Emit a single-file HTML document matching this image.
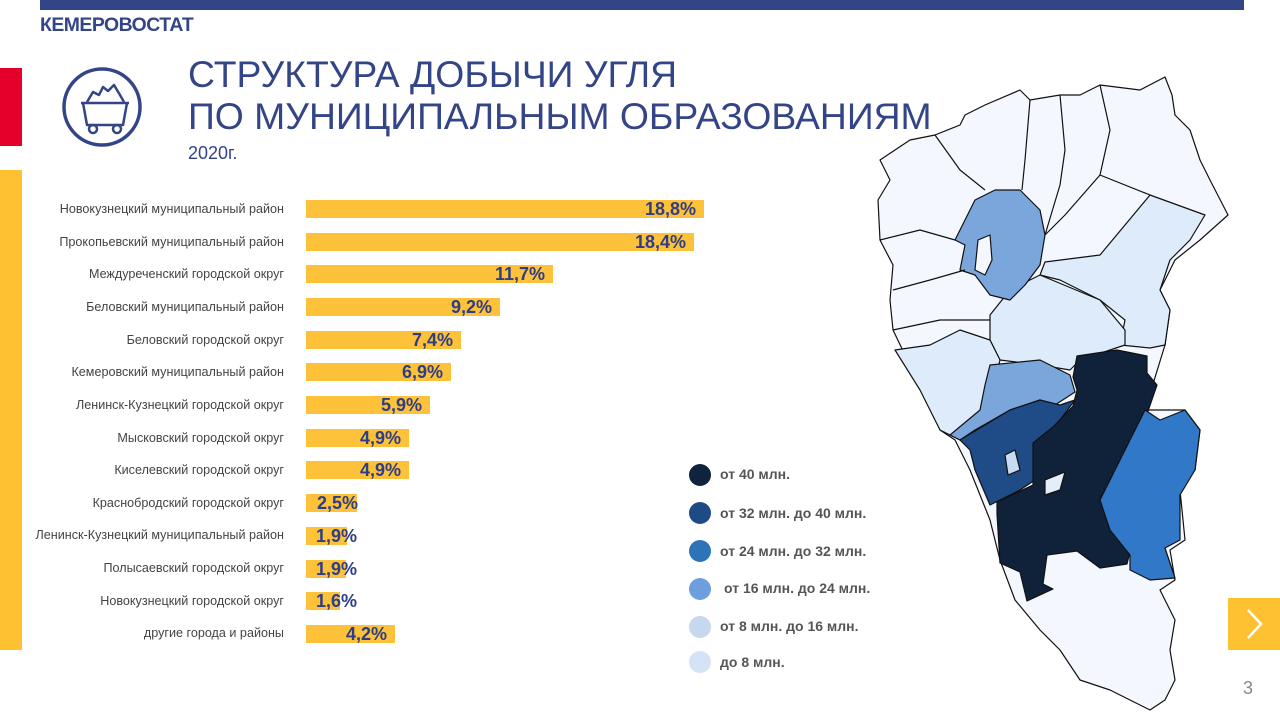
<!DOCTYPE html>
<html><head><meta charset="utf-8"><style>
body{margin:0;width:1280px;height:720px;overflow:hidden;background:#fff;font-family:"Liberation Sans",sans-serif;position:relative}
.a{position:absolute}
.lbl{position:absolute;right:996px;font-size:12.6px;color:#444;white-space:nowrap}
.bar{position:absolute;left:306px;height:18px;background:#fdc13a}
.val{position:absolute;font-size:18px;font-weight:bold;color:#2e3e86;white-space:nowrap;text-align:right}
.lg{position:absolute;left:720px;font-size:14px;font-weight:bold;color:#555}
.dot{position:absolute;left:689px;width:22px;height:22px;border-radius:50%}
</style></head><body>
<div class="a" style="left:40px;top:0;width:1204px;height:10px;background:#344587"></div>
<div class="a" style="left:40px;top:14px;font-size:19.4px;font-weight:bold;color:#344587;letter-spacing:-0.5px">КЕМЕРОВОСТАТ</div>
<div class="a" style="left:0;top:68px;width:22px;height:78px;background:#e4002b"></div>
<div class="a" style="left:0;top:170px;width:22px;height:480px;background:#fdc131"></div>
<svg class="a" style="left:60px;top:66px" width="84" height="84" viewBox="0 0 84 84">
<circle cx="42" cy="41" r="38" fill="none" stroke="#344587" stroke-width="3.5"/>
<g fill="none" stroke="#344587" stroke-width="2.5" stroke-linejoin="round">
<path d="M21 37h48"/><path d="M23 37l4 22h36l4-22"/>
<path d="M27 36l6-10 6 3 4-8 5 4 6-6 6 10 4 7"/>
<circle cx="33" cy="63" r="4"/><circle cx="57" cy="63" r="4"/>
</g></svg>
<div class="a" style="left:188px;top:53px;font-size:37.3px;color:#344587;line-height:42px">СТРУКТУРА ДОБЫЧИ УГЛЯ<br>ПО МУНИЦИПАЛЬНЫМ ОБРАЗОВАНИЯМ</div>
<div class="a" style="left:188px;top:143px;font-size:18px;color:#344587">2020г.</div>

<svg class="a" style="left:860px;top:70px" width="380" height="650" viewBox="860 70 380 650">
<g stroke="#111" stroke-width="1.2" stroke-linejoin="round">
<polygon fill="#f4f8fe" points="1165,77 1172,95 1175,115 1190,130 1200,160 1210,180 1228,215 1200,240 1175,260 1160,290 1170,310 1165,345 1145,410 1185,410 1200,430 1195,470 1180,490 1185,540 1170,550 1175,580 1160,590 1175,620 1170,650 1175,680 1165,700 1150,710 1130,700 1110,690 1080,680 1060,650 1040,630 1015,600 1000,560 990,520 970,470 955,440 940,430 920,380 905,355 893,330 890,300 893,265 880,240 878,200 890,180 880,160 895,150 910,140 935,135 960,125 965,115 985,105 1020,90 1030,100 1060,95 1080,95 1100,85 1140,90"/>
<polygon fill="#deebfa" points="1045,262 1100,255 1150,195 1205,215 1190,240 1170,260 1160,290 1170,310 1165,345 1150,348 1120,345 1125,320 1100,300 1060,280 1040,275"/>
<polygon fill="#deebfa" points="1040,275 1100,300 1125,330 1125,345 1080,360 1070,370 1040,365 1000,360 990,340 990,315 1010,290"/>
<polygon fill="#deebfa" points="895,350 930,345 960,330 990,340 1000,360 985,420 960,440 940,430 920,390"/>
<polygon fill="#7aa6dc" points="975,200 995,190 1020,190 1040,210 1045,235 1040,265 1025,285 1010,300 990,295 975,275 960,270 965,245 955,240 965,220"/>
<polygon fill="#7aa6dc" points="990,365 1040,360 1070,375 1075,392 1055,405 1040,400 1010,410 975,430 960,440 950,435 980,410 985,385"/>
<polygon fill="#1f4b86" points="960,440 1010,410 1040,400 1060,405 1075,400 1060,420 1040,440 1035,480 1020,490 1000,500 990,505 975,470 970,450"/>
<polygon fill="#0f2239" points="1077,356 1117,350 1147,356 1147,373 1157,385 1147,414 1127,468 1117,481 1100,497 1123,526 1133,539 1127,564 1100,568 1077,551 1047,555 1043,584 1053,589 1027,601 1020,572 1000,563 997,514 997,502 1033,485 1033,443 1053,427 1073,406 1077,390 1073,377"/>
<polygon fill="#3278c9" points="1145,410 1160,420 1185,410 1200,430 1195,470 1180,495 1180,540 1165,548 1175,578 1150,580 1130,570 1130,555 1110,530 1100,500 1115,470 1130,440"/>
<polygon fill="#e4eefa" points="1045,480 1065,472 1060,490 1045,495"/>
<polygon fill="#c9dbf0" points="1005,455 1015,450 1020,470 1008,475"/>
<polygon fill="#f4f8fe" points="978,240 990,235 992,260 985,275 975,270"/>
<polyline fill="none" points="1030,100 1025,160 1022,190"/>
<polyline fill="none" points="1060,95 1065,150 1060,185 1045,235"/>
<polyline fill="none" points="1100,85 1110,130 1100,175 1065,215 1045,235"/>
<polyline fill="none" points="1100,175 1150,195"/>
<polyline fill="none" points="935,135 960,170 985,190"/>
<polyline fill="none" points="880,240 920,230 955,240"/>
<polyline fill="none" points="893,290 930,280 965,270"/>
<polyline fill="none" points="893,330 940,320 990,320"/>
</g></svg>

<div class="lbl" style="top:202px">Новокузнецкий муниципальный район</div>
<div class="lbl" style="top:235px">Прокопьевский муниципальный район</div>
<div class="lbl" style="top:267px">Междуреченский городской округ</div>
<div class="lbl" style="top:300px">Беловский муниципальный район</div>
<div class="lbl" style="top:333px">Беловский городской округ</div>
<div class="lbl" style="top:365px">Кемеровский муниципальный район</div>
<div class="lbl" style="top:398px">Ленинск-Кузнецкий городской округ</div>
<div class="lbl" style="top:431px">Мысковский городской округ</div>
<div class="lbl" style="top:463px">Киселевский городской округ</div>
<div class="lbl" style="top:496px">Краснобродский городской округ</div>
<div class="lbl" style="top:528px">Ленинск-Кузнецкий муниципальный район</div>
<div class="lbl" style="top:561px">Полысаевский городской округ</div>
<div class="lbl" style="top:594px">Новокузнецкий городской округ</div>
<div class="lbl" style="top:626px">другие города и районы</div>

<div class="bar" style="top:200px;width:398px"></div>
<div class="bar" style="top:233px;width:388px"></div>
<div class="bar" style="top:265px;width:247px"></div>
<div class="bar" style="top:298px;width:194px"></div>
<div class="bar" style="top:331px;width:155px"></div>
<div class="bar" style="top:363px;width:145px"></div>
<div class="bar" style="top:396px;width:124px"></div>
<div class="bar" style="top:429px;width:103px"></div>
<div class="bar" style="top:461px;width:103px"></div>
<div class="bar" style="top:494px;width:51px"></div>
<div class="bar" style="top:527px;width:41px"></div>
<div class="bar" style="top:560px;width:40px"></div>
<div class="bar" style="top:592px;width:34px"></div>
<div class="bar" style="top:625px;width:89px"></div>

<div class="val" style="right:584px;top:199px">18,8%</div>
<div class="val" style="right:594px;top:232px">18,4%</div>
<div class="val" style="right:735px;top:264px">11,7%</div>
<div class="val" style="right:788px;top:297px">9,2%</div>
<div class="val" style="right:827px;top:330px">7,4%</div>
<div class="val" style="right:837px;top:362px">6,9%</div>
<div class="val" style="right:858px;top:395px">5,9%</div>
<div class="val" style="right:879px;top:428px">4,9%</div>
<div class="val" style="right:879px;top:460px">4,9%</div>
<div class="val" style="right:922px;top:493px">2,5%</div>
<div class="val" style="right:923px;top:526px">1,9%</div>
<div class="val" style="right:923px;top:559px">1,9%</div>
<div class="val" style="right:923px;top:591px">1,6%</div>
<div class="val" style="right:893px;top:624px">4,2%</div>

<div class="dot" style="top:464px;background:#10233d"></div><div class="lg" style="top:466px">от 40 млн.</div>
<div class="dot" style="top:502px;background:#1f4b85"></div><div class="lg" style="top:505px">от 32 млн. до 40 млн.</div>
<div class="dot" style="top:540px;background:#2d73b8"></div><div class="lg" style="top:543px">от 24 млн. до 32 млн.</div>
<div class="dot" style="top:578px;background:#6d9fdc"></div><div class="lg" style="top:580px;left:724px">от 16 млн. до 24 млн.</div>
<div class="dot" style="top:616px;background:#c5d8ee"></div><div class="lg" style="top:618px">от 8 млн. до 16 млн.</div>
<div class="dot" style="top:651px;background:#d4e3f6"></div><div class="lg" style="top:654px">до 8 млн.</div>

<div class="a" style="left:1228px;top:598px;width:52px;height:52px;background:#fdc131"></div>
<svg class="a" style="left:1228px;top:598px" width="52" height="52"><polyline points="20,12 33,26 20,40" fill="none" stroke="#fff" stroke-width="2.5"/></svg>
<div class="a" style="left:1243px;top:678px;font-size:18px;color:#888">3</div>
</body></html>
